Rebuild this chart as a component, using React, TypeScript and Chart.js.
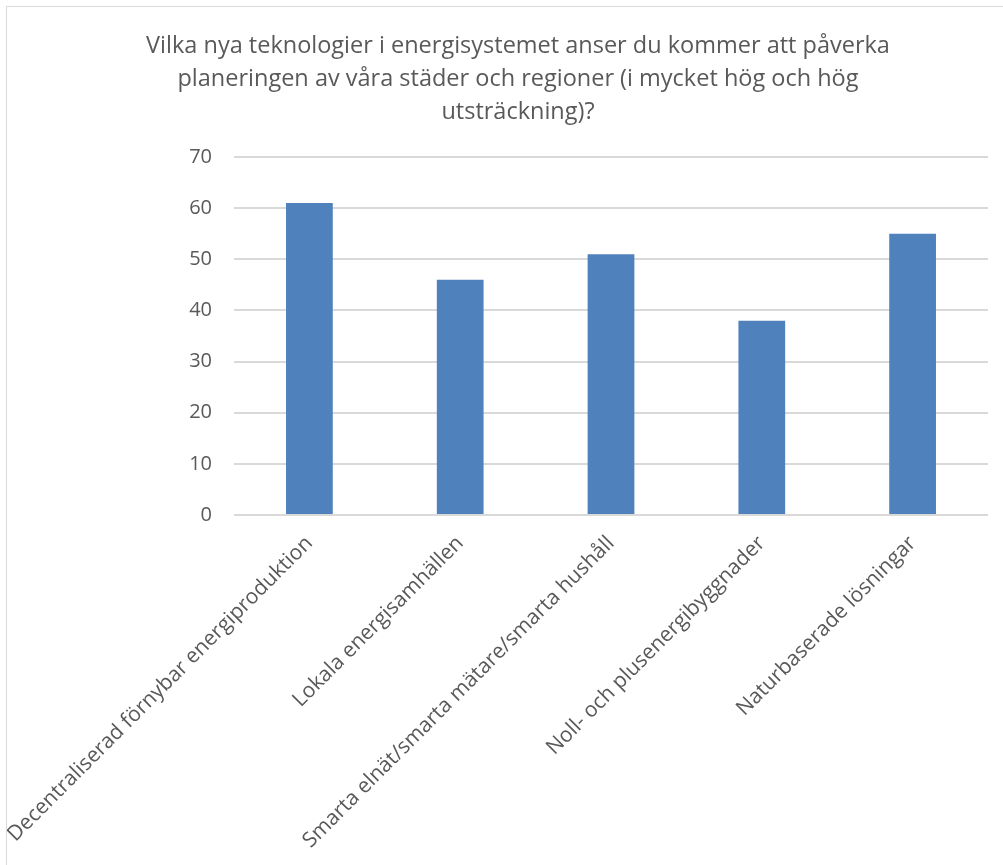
import React, { useEffect, useRef } from "react";
import { Chart, registerables } from "chart.js";

Chart.register(...registerables);

const titleLines = [
  "Vilka nya teknologier i energisystemet anser du kommer att påverka",
  "planeringen av våra städer och regioner (i mycket hög och hög",
  "utsträckning)?",
];
const categories = [
  "Decentraliserad förnybar energiproduktion",
  "Lokala energisamhällen",
  "Smarta elnät/smarta mätare/smarta hushåll",
  "Noll- och plusenergibyggnader",
  "Naturbaserade lösningar",
];
const values = [61, 46, 51, 38, 55];
const yMin = 0;
const yMax = 70;
const yStep = 10;

const CANVAS_W = 1022;
const CANVAS_H = 900;
const AREA_LEFT = 227;
const AREA_RIGHT_GAP = 41;
const AREA_BOTTOM = 508;

export default function App() {
  const ref = useRef<HTMLCanvasElement | null>(null);
  useEffect(() => {
    if (!ref.current) return;
    const textColor = "#595959";
    const font = "'Open Sans', sans-serif";
    const chart = new Chart(ref.current, {
      type: "bar",
      data: {
        labels: categories,
        datasets: [
          {
            data: values,
            backgroundColor: "#4f81bd",
            borderWidth: 0,
            categoryPercentage: 1,
            barPercentage: 0.31,
          },
        ],
      },
      options: {
        animation: false,
        responsive: false,
        layout: { padding: 0 },
        plugins: {
          legend: { display: false },
          tooltip: { enabled: false },
          title: {
            display: true,
            text: titleLines,
            color: textColor,
            font: { family: font, size: 23.5, weight: "normal", lineHeight: "33px" },
            padding: { top: 23, bottom: 28 },
          },
        },
        scales: {
          x: {
            grid: { display: false, drawTicks: false },
            border: { display: false },
            ticks: {
              color: textColor,
              font: { family: font, size: 21 },
              maxRotation: 45,
              minRotation: 45,
              padding: 16,
              autoSkip: false,
            },
            afterFit: (scale: any) => {
              scale.height = CANVAS_H - AREA_BOTTOM;
              scale.paddingLeft = 0;
              scale.paddingRight = 0;
            },
          },
          y: {
            min: yMin,
            max: yMax,
            grid: { color: "#d9d9d9", lineWidth: 2, drawTicks: false },
            border: { display: false },
            ticks: {
              stepSize: yStep,
              color: textColor,
              font: { family: font, size: 20 },
              padding: 22,
            },
            afterFit: (scale: any) => {
              scale.width = AREA_LEFT;
            },
          },
          yRight: {
            position: "right",
            display: true,
            grid: { display: false, drawTicks: false },
            border: { display: false },
            ticks: { display: false },
            afterFit: (scale: any) => {
              scale.width = AREA_RIGHT_GAP;
            },
          },
        },
      },
    });
    return () => chart.destroy();
  }, []);
  return (
    <div
      style={{
        position: "fixed",
        left: 6,
        top: 6,
        border: "1px solid #d9d9d9",
        background: "#fff",
        width: CANVAS_W,
        height: CANVAS_H,
      }}
    >
      <canvas
        ref={ref}
        width={CANVAS_W}
        height={CANVAS_H}
        style={{ display: "block", width: CANVAS_W, height: CANVAS_H }}
      />
    </div>
  );
}
